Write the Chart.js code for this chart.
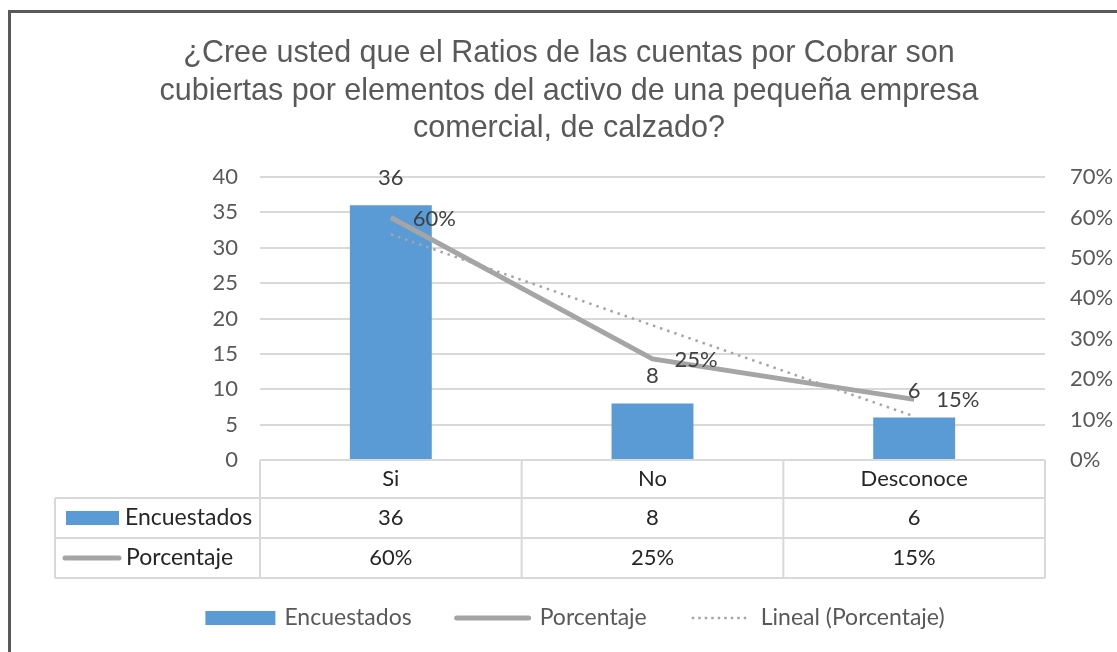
<!DOCTYPE html>
<html>
<head>
<meta charset="utf-8">
<script src="https://cdn.jsdelivr.net/npm/chart.js@4.4.1/dist/chart.umd.min.js"></script>
<style>
  html, body { margin: 0; padding: 0; background: #fff; overflow: hidden; }
  .frame { position: absolute; left: 8px; top: 10px; width: 1300px; height: 800px; border: 3px solid #595959; }
  .wrap { position: absolute; left: 0; top: 0; width: 1117px; height: 652px; }
</style>
</head>
<body>
<div class="frame"></div>
<div class="wrap"><canvas id="chart" width="1117" height="652"></canvas></div>
<script>
const titleLines = [
  '¿Cree usted que el Ratios de las cuentas por Cobrar son',
  'cubiertas por elementos del activo de una pequeña empresa',
  'comercial, de calzado?'
];
const categories = ['Si', 'No', 'Desconoce'];
const encuestados = [36, 8, 6];
const porcentaje = [60, 25, 15];
const tendencia = [55.8, 33.3, 10.8]; // linear trend
const seriesNames = ['Encuestados', 'Porcentaje', 'Lineal (Porcentaje)'];

const BLUE = '#5b9bd5';
const GREY = '#a5a5a5';
const GRID = '#d9d9d9';
const TXT = '#595959';
const DARK = '#262626';
const FONT = 'Lato, "Open Sans", sans-serif';

// row heights of the data table under the plot
const headerH = 38;
const rowH = 40;
const tableLeft = 55;

const extras = {
  id: 'extras',
  afterDatasetsDraw(chart) {
    const ctx = chart.ctx;
    ctx.save();
    ctx.font = '22px ' + FONT;
    ctx.fillStyle = '#404040';
    // bar labels above the bars
    chart.getDatasetMeta(0).data.forEach((el, i) => {
      ctx.textAlign = 'center';
      ctx.textBaseline = 'middle';
      ctx.fillText(String(encuestados[i]), el.x, el.y - 27);
    });
    // line labels to the right of the points
    chart.getDatasetMeta(1).data.forEach((el, i) => {
      ctx.textAlign = 'left';
      ctx.textBaseline = 'middle';
      ctx.fillText(porcentaje[i] + '%', el.x + 22, el.y + 1);
    });
    ctx.restore();
  },
  afterDraw(chart) {
    const ctx = chart.ctx;
    const area = chart.chartArea;
    const xs = chart.scales.x;
    ctx.save();

    // title
    ctx.fillStyle = TXT;
    ctx.font = '30.5px "Liberation Sans", Arial, sans-serif';
    ctx.textAlign = 'center';
    ctx.textBaseline = 'alphabetic';
    titleLines.forEach((t, i) => ctx.fillText(t, 569, 62 + i * 37.5));

    // data table
    const top = area.bottom;
    const r1 = top + headerH, r2 = r1 + rowH, r3 = r2 + rowH;
    const step = (area.right - area.left) / categories.length;
    ctx.strokeStyle = GRID;
    ctx.lineWidth = 2;
    ctx.beginPath();
    for (let i = 0; i <= categories.length; i++) {
      const x = area.left + i * step;
      ctx.moveTo(x, top); ctx.lineTo(x, r3);
    }
    ctx.moveTo(tableLeft, r1); ctx.lineTo(tableLeft, r3);
    [r1, r2, r3].forEach(y => { ctx.moveTo(tableLeft, y); ctx.lineTo(area.right, y); });
    ctx.stroke();

    ctx.font = '22px ' + FONT;
    ctx.fillStyle = DARK;
    ctx.textAlign = 'center';
    ctx.textBaseline = 'middle';
    categories.forEach((c, i) => {
      const x = xs.getPixelForValue(i);
      ctx.fillText(String(encuestados[i]), x, (r1 + r2) / 2);
      ctx.fillText(porcentaje[i] + '%', x, (r2 + r3) / 2);
    });
    // row keys
    ctx.fillStyle = BLUE;
    ctx.fillRect(66, (r1 + r2) / 2 - 7, 53, 14);
    ctx.strokeStyle = GREY;
    ctx.lineWidth = 5;
    ctx.lineCap = 'round';
    ctx.beginPath();
    ctx.moveTo(65, (r2 + r3) / 2); ctx.lineTo(119, (r2 + r3) / 2);
    ctx.stroke();
    ctx.font = '23px ' + FONT;
    ctx.fillStyle = DARK;
    ctx.textAlign = 'left';
    ctx.fillText(seriesNames[0], 125, (r1 + r2) / 2);
    ctx.fillText(seriesNames[1], 126, (r2 + r3) / 2);

    // legend at the bottom
    const ly = 618;
    ctx.font = '23px ' + FONT;
    const sw = [70, 76, 62];
    const gapText = 9, gapItem = 43;
    let total = 0;
    seriesNames.forEach((n, i) => { total += sw[i] + gapText + ctx.measureText(n).width; });
    total += gapItem * (seriesNames.length - 1);
    let x = 575 - total / 2;
    seriesNames.forEach((n, i) => {
      if (i === 0) {
        ctx.fillStyle = BLUE;
        ctx.fillRect(x, ly - 7, sw[i], 14);
      } else {
        ctx.strokeStyle = GREY;
        ctx.lineCap = i === 1 ? 'round' : 'butt';
        ctx.lineWidth = i === 1 ? 5 : 2.5;
        ctx.setLineDash(i === 1 ? [] : [2.5, 4]);
        ctx.beginPath();
        ctx.moveTo(x + 2, ly); ctx.lineTo(x + sw[i] - 2, ly);
        ctx.stroke();
        ctx.setLineDash([]);
      }
      x += sw[i] + gapText;
      ctx.fillStyle = TXT;
      ctx.textAlign = 'left';
      ctx.fillText(n, x, ly);
      x += ctx.measureText(n).width + gapItem;
    });
    ctx.restore();
  }
};

new Chart(document.getElementById('chart'), {
  type: 'bar',
  data: {
    labels: categories,
    datasets: [
      {
        type: 'bar',
        label: seriesNames[0],
        data: encuestados,
        backgroundColor: BLUE,
        yAxisID: 'y',
        categoryPercentage: 1,
        barPercentage: 0.313,
        order: 2
      },
      {
        type: 'line',
        label: seriesNames[1],
        data: porcentaje,
        borderColor: GREY,
        borderWidth: 5,
        pointRadius: 0,
        tension: 0,
        yAxisID: 'y1',
        order: 1
      },
      {
        type: 'line',
        label: seriesNames[2],
        data: tendencia,
        borderColor: GREY,
        borderWidth: 2.5,
        borderDash: [2.5, 5],
        pointRadius: 0,
        tension: 0,
        yAxisID: 'y1',
        order: 0
      }
    ]
  },
  options: {
    responsive: false,
    animation: false,
    layout: { padding: { left: 10, right: 0, top: 177, bottom: 74 } },
    plugins: {
      legend: { display: false },
      title: { display: false },
      tooltip: { enabled: false }
    },
    scales: {
      x: {
        grid: { display: false, drawTicks: false },
        border: { display: false },
        ticks: { color: DARK, font: { family: FONT, size: 22 }, padding: 6 },
        afterFit: s => { s.height = headerH + rowH * 2; }
      },
      y: {
        position: 'left',
        min: 0, max: 40,
        ticks: { stepSize: 5, color: TXT, font: { family: FONT, size: 22 }, padding: 22 },
        grid: { color: GRID, lineWidth: 2, drawTicks: false },
        border: { display: false },
        afterFit: s => { s.width = 250; }
      },
      y1: {
        position: 'right',
        min: 0, max: 70,
        ticks: { stepSize: 10, color: TXT, font: { family: FONT, size: 22 }, padding: 25, callback: v => v + '%' },
        grid: { display: false, drawTicks: false },
        border: { display: false },
        afterFit: s => { s.width = 72; }
      }
    }
  },
  plugins: [extras]
});
</script>
</body>
</html>
